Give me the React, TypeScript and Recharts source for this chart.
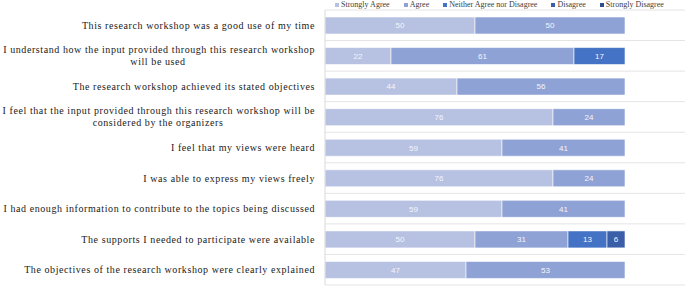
import { BarChart, Bar, XAxis, YAxis, CartesianGrid, Legend, LabelList } from 'recharts';

const STATEMENTS = [
  'This research workshop was a good use of my time',
  'I understand how the input provided through this research workshop\nwill be used',
  'The research workshop achieved its stated objectives',
  'I feel that the input provided through this research workshop will be\nconsidered by the organizers',
  'I feel that my views were heard',
  'I was able to express my views freely',
  'I had enough information to contribute to the topics being discussed',
  'The supports I needed to participate were available',
  'The objectives of the research workshop were clearly explained',
];

const STRONGLY_AGREE = [50, 22, 44, 76, 59, 76, 59, 50, 47];
const AGREE = [50, 61, 56, 24, 41, 24, 41, 31, 53];
const NEUTRAL = [0, 17, 0, 0, 0, 0, 0, 13, 0];
const DISAGREE = [0, 0, 0, 0, 0, 0, 0, 6, 0];
const STRONGLY_DISAGREE = [0, 0, 0, 0, 0, 0, 0, 0, 0];

const SERIES = [
  { key: 'sa', label: 'Strongly Agree', color: '#b7c1e2', values: STRONGLY_AGREE },
  { key: 'a', label: 'Agree', color: '#8ea2d5', values: AGREE },
  { key: 'n', label: 'Neither Agree nor Disagree', color: '#4472c4', values: NEUTRAL },
  { key: 'd', label: 'Disagree', color: '#3a5fa8', values: DISAGREE },
  { key: 'sd', label: 'Strongly Disagree', color: '#2e4d8c', values: STRONGLY_DISAGREE },
];

const data = STATEMENTS.map((name, i) => {
  const row: Record<string, string | number> = { name };
  SERIES.forEach((s) => (row[s.key] = s.values[i]));
  return row;
});

const SERIF = '"Liberation Serif", "DejaVu Serif", serif';

function StatementTick({ x, y, payload }: any) {
  const lines = String(payload.value).split('\n');
  const tx = x - 2;
  if (lines.length === 1) {
    return (
      <text x={tx} y={y} dy={3.5} textAnchor="end" fontFamily={SERIF} fontSize={10} letterSpacing={0.58} fill="#1a1a1a">
        {lines[0]}
      </text>
    );
  }
  return (
    <text fontFamily={SERIF} fontSize={10} letterSpacing={0.58} fill="#1a1a1a">
      <tspan x={tx} y={y - 6 + 3.5} textAnchor="end">{lines[0]}</tspan>
      <tspan x={tx - 157} y={y + 6 + 3.5} textAnchor="middle">{lines[1]}</tspan>
    </text>
  );
}

function LegendRow() {
  return (
    <div style={{ display: 'flex', gap: 14, fontFamily: SERIF, fontSize: 8, color: '#404040', lineHeight: '9px' }}>
      {SERIES.map((s) => (
        <span key={s.key} style={{ display: 'flex', alignItems: 'center' }}>
          <span style={{ width: 4, height: 4, background: s.color, marginRight: 2, display: 'inline-block' }} />
          {s.label}
        </span>
      ))}
    </div>
  );
}

export default function App() {
  return (
    <div style={{ position: 'absolute', left: 0, top: 0, width: 685, height: 287, background: '#fff' }}>
      <BarChart
        width={685}
        height={287}
        data={data}
        layout="vertical"
        barSize={17}
        margin={{ top: 10, right: 0, bottom: 2, left: 0 }}
      >
        <CartesianGrid
          vertical={false}
          stroke="#e4e4e4"
          horizontalCoordinatesGenerator={({ offset }: any) =>
            STATEMENTS.map((_, i) => offset.top + (i * offset.height) / STATEMENTS.length).concat(offset.top + offset.height)
          }
        />
        <XAxis type="number" domain={[0, 120]} hide />
        <YAxis
          type="category"
          dataKey="name"
          width={325}
          tickLine={false}
          axisLine={{ stroke: '#d9d9d9' }}
          tick={<StatementTick />}
          interval={0}
        />
        <Legend
          layout="horizontal"
          verticalAlign="middle"
          align="center"
          wrapperStyle={{ top: 0, left: 335, width: 350, height: 10 }}
          content={() => <LegendRow />}
        />
        {SERIES.map((s) => (
          <Bar key={s.key} dataKey={s.key} stackId="a" fill={s.color} stroke="#fff" strokeWidth={0.6} isAnimationActive={false}>
            <LabelList
              dataKey={s.key}
              position="center"
              fill="#f4f6fb"
              fontSize={8}
              fontFamily='"Liberation Sans", Arial, sans-serif'
              formatter={(v: any) => (v ? v : '')}
            />
          </Bar>
        ))}
      </BarChart>
    </div>
  );
}
